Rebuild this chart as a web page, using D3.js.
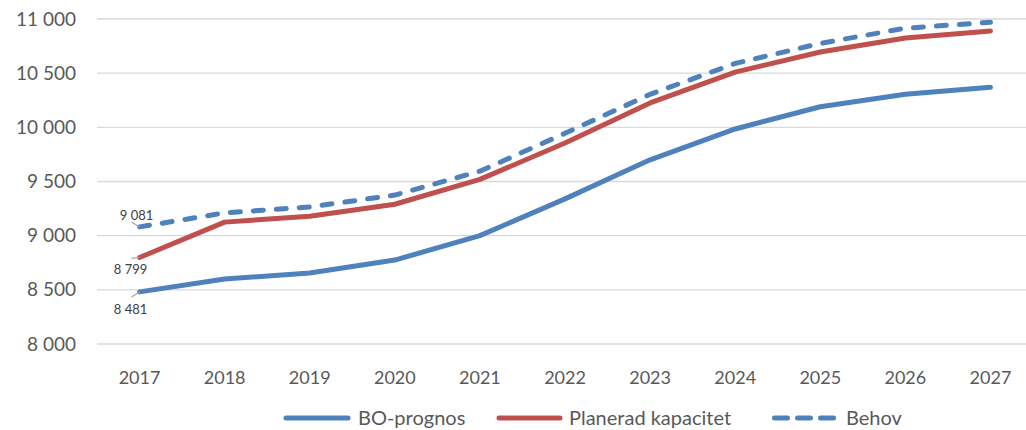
<!DOCTYPE html>
<html>
<head>
<meta charset="utf-8">
<script src="https://cdn.jsdelivr.net/npm/d3@7"></script>
<style>
  html, body { margin: 0; padding: 0; background: #fff; }
  svg { display: block; font-family: Lato, "Open Sans", sans-serif; }
</style>
</head>
<body>
<svg id="chart" width="1026" height="430"></svg>
<script>
const years = ["2017","2018","2019","2020","2021","2022","2023","2024","2025","2026","2027"];
const boPrognos = [8481, 8600, 8655, 8775, 9000, 9340, 9700, 9985, 10190, 10305, 10370];
const planerad  = [8799, 9125, 9180, 9290, 9520, 9855, 10225, 10510, 10695, 10825, 10890];
const behov     = [9081, 9210, 9265, 9375, 9595, 9945, 10305, 10590, 10775, 10915, 10970];
const yTicks = [8000, 8500, 9000, 9500, 10000, 10500, 11000];
const seriesNames = ["BO-prognos", "Planerad kapacitet", "Behov"];

const blue = "#4f81bd", red = "#c0504d";
const svg = d3.select("#chart");
const fmt = v => d3.format(",")(v).replace(/,/g, " ");

const x = d3.scaleBand().domain(years).range([97, 1033]);
const y = d3.scaleLinear().domain([8000, 11000]).range([344, 19]);
const cx = d => x(d) + x.bandwidth() / 2;

// horizontal gridlines
svg.append("g").selectAll("line").data(yTicks).join("line")
  .attr("x1", 97).attr("x2", 1026)
  .attr("y1", d => y(d)).attr("y2", d => y(d))
  .attr("stroke", "#d9d9d9").attr("stroke-width", 1.3);

// y axis labels
const yAxis = svg.append("g").attr("transform", "translate(76,0)")
  .call(d3.axisLeft(y).tickValues(yTicks).tickFormat(fmt).tickSize(0).tickPadding(0));
yAxis.select(".domain").remove();
yAxis.selectAll("text").attr("font-size", 19).attr("fill", "#595959")
  .attr("font-family", "Lato, 'Open Sans', sans-serif");

// x axis labels
const xAxis = svg.append("g").attr("transform", "translate(0,371)")
  .call(d3.axisBottom(x).tickSize(0).tickPadding(0));
xAxis.select(".domain").remove();
xAxis.selectAll("text").attr("font-size", 18).attr("fill", "#595959")
  .attr("font-family", "Lato, 'Open Sans', sans-serif");

const line = d3.line().x((d, i) => cx(years[i])).y(d => y(d));

const series = [
  { name: seriesNames[0], values: boPrognos, color: blue, dash: null },
  { name: seriesNames[1], values: planerad, color: red, dash: null },
  { name: seriesNames[2], values: behov, color: blue, dash: "10,13" }
];

svg.append("g").selectAll("path").data(series).join("path")
  .attr("d", d => line(d.values))
  .attr("fill", "none")
  .attr("stroke", d => d.color)
  .attr("stroke-width", 5)
  .attr("stroke-linecap", "round")
  .attr("stroke-linejoin", "round")
  .attr("stroke-dasharray", d => d.dash);

// first-year value labels with leader lines
const labelSpec = [
  { v: behov[0], dx: -8, dy: -5, tx: -3, ty: -7 },
  { v: planerad[0], dx: -8, dy: 1, tx: -9, ty: 17 },
  { v: boPrognos[0], dx: -8, dy: 5, tx: -9, ty: 22 }
];
const lg = svg.append("g");
labelSpec.forEach(s => {
  const px = cx(years[0]), py = y(s.v);
  lg.append("line")
    .attr("x1", px).attr("y1", py)
    .attr("x2", px + s.dx).attr("y2", py + s.dy)
    .attr("stroke", "#a6a6a6").attr("stroke-width", 1.2);
  lg.append("text")
    .attr("x", px + s.tx).attr("y", py + s.ty)
    .attr("text-anchor", "middle")
    .attr("font-size", 13).attr("fill", "#404040")
    .text(fmt(s.v));
});

// legend
const legendItems = [
  { name: seriesNames[0], color: blue, dash: null, x0: 286, x1: 348, tx: 358 },
  { name: seriesNames[1], color: red, dash: null, x0: 499, x1: 560, tx: 569 },
  { name: seriesNames[2], color: blue, dash: "13,10", x0: 774.5, x1: 834.5, tx: 846 }
];
const leg = svg.append("g").attr("transform", "translate(0,418)");
leg.selectAll("line").data(legendItems).join("line")
  .attr("x1", d => d.x0).attr("x2", d => d.x1)
  .attr("y1", 0).attr("y2", 0)
  .attr("stroke", d => d.color).attr("stroke-width", 5)
  .attr("stroke-linecap", "round")
  .attr("stroke-dasharray", d => d.dash);
leg.selectAll("text").data(legendItems).join("text")
  .attr("x", d => d.tx).attr("y", 7)
  .attr("font-size", 20).attr("fill", "#595959")
  .text(d => d.name);
</script>
</body>
</html>
